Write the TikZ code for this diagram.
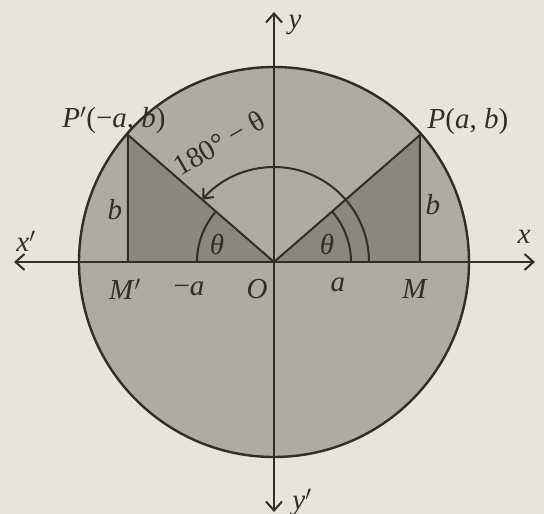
\documentclass[tikz,border=0pt]{standalone}
\usepackage{fontspec}
\setmainfont{Liberation Serif}
\usetikzlibrary{arrows.meta}
\definecolor{paper}{HTML}{E7E4DD}
\definecolor{disc}{HTML}{AEAAA4}
\definecolor{tri}{HTML}{8A8680}
\definecolor{ink}{HTML}{332C2A}
\begin{document}
\begin{tikzpicture}[x=1pt,y=1pt,
  axis/.style={draw=ink,line width=2pt,-{Straight Barb[length=9pt,width=16pt,line width=2pt]}},
  thin line/.style={draw=ink,line width=2pt},
  lbl/.style={text=ink,font=\fontsize{29}{32}\selectfont,inner sep=0pt}]
\fill[paper] (-274,-252) rectangle (270,262);
\useasboundingbox (-274,-252) rectangle (270,262);
\coordinate (O) at (0,0);
\coordinate (P) at (146,127);
\coordinate (M) at (146,0);
\coordinate (Pp) at (-146,127);
\coordinate (Mp) at (-146,0);
\coordinate (xe) at (261,0);
\coordinate (xw) at (-260,0);
\coordinate (yn) at (0,250);
\coordinate (ys) at (0,-250);
% disc
\fill[disc] (O) circle[radius=195];
% triangles
\fill[tri] (O) -- (P) -- (M) -- cycle;
\fill[tri] (O) -- (Pp) -- (Mp) -- cycle;
\draw[ink,line width=2.4pt] (O) circle[radius=195];
% axes
\draw[axis] (O) -- (xe);
\draw[axis] (O) -- (xw);
\draw[axis] (O) -- (yn);
\draw[axis] (O) -- (ys);
% triangle sides
\draw[thin line] (O) -- (P) -- (M);
\draw[thin line] (O) -- (Pp) -- (Mp);
% angle arcs
\draw[thin line] (77,0) arc[start angle=0,end angle=41,radius=77];
\draw[thin line] (-77,0) arc[start angle=180,end angle=139,radius=77];
\draw[thin line,-{Straight Barb[length=8pt,width=14pt,line width=2pt]}] (95,0) arc[start angle=0,end angle=139,radius=95];
% labels
\node[lbl] (lP) at (194,140) {\textit{P}(\textit{a}, \textit{b})};
\node[lbl] (lPp) at (-160,142) {\textit{P}\/$'$(−\textit{a}, \textit{b})};
\node[lbl] (lbR) at (159,57) {\textit{b}};
\node[lbl] (lbL) at (-159,52) {\textit{b}};
\node[lbl] (thR) at (53,17) {\textit{θ}};
\node[lbl] (thL) at (-57,17) {\textit{θ}};
\node[lbl,rotate=30] (big) at (-55,119) {180° − θ};
\node[lbl] (lMp) at (-149,-27) {\textit{M}$'$};
\node[lbl] (lma) at (-85,-27) {−\textit{a}};
\node[lbl] (lO) at (-17,-27) {\textit{O}};
\node[lbl] (la) at (64,-23) {\textit{a}};
\node[lbl] (lM) at (141,-27) {\textit{M}};
\node[lbl] (lxp) at (-248,21) {\textit{x}$'$};
\node[lbl] (lx) at (250,25) {\textit{x}};
\node[lbl] (ly) at (21,237) {\textit{y}};
\node[lbl] (lyp) at (28,-240) {\textit{y}$'$};
\end{tikzpicture}
\end{document}
